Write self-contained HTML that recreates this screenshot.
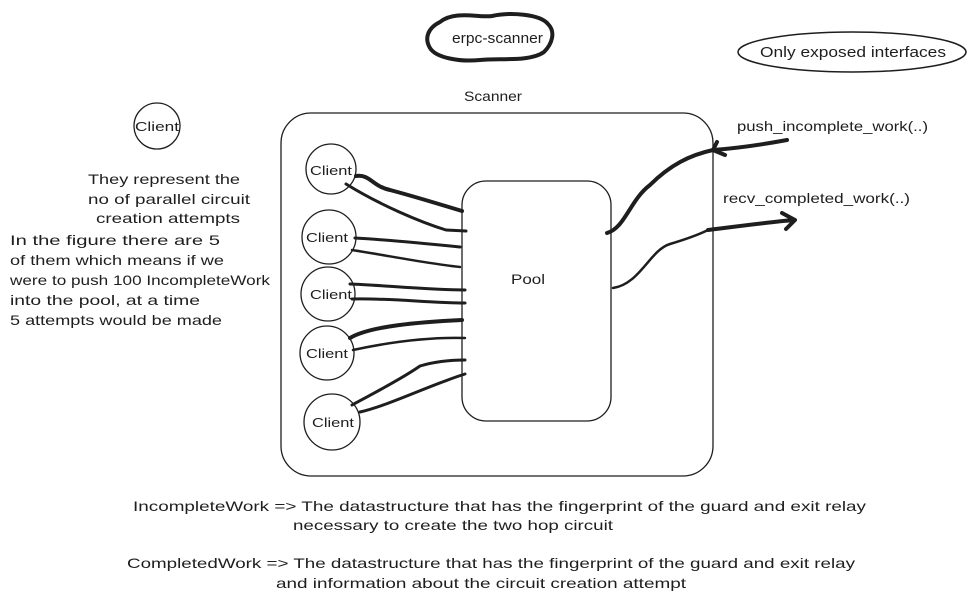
<!DOCTYPE html>
<html><head><style>
html,body{margin:0;padding:0;background:#fff;}
svg text{font-family:"Liberation Sans",sans-serif;fill:#1e1e1e;}
</style></head><body>
<svg width="976" height="604" viewBox="0 0 976 604" xmlns="http://www.w3.org/2000/svg">
<g fill="none" stroke="#1e1e1e" stroke-linecap="round" stroke-linejoin="round">
<path d="M440 22 C455 10,480 18,492 16 C510 12,540 14,548 24 C556 32,552 44,544 52 C530 62,500 58,480 60 C460 62,436 58,430 48 C424 38,428 28,440 22 Z" stroke-width="4"/>
<ellipse cx="852" cy="52" rx="114" ry="20" stroke-width="1.5"/>
<rect x="281" y="113" width="432" height="363" rx="30" stroke-width="1.3"/>
<rect x="462" y="181" width="149" height="240" rx="24" stroke-width="1.3"/>
<circle cx="157" cy="126" r="23" stroke-width="1.3"/>
<circle cx="331" cy="169" r="25" stroke-width="1.3"/>
<circle cx="329" cy="237" r="27" stroke-width="1.3"/>
<circle cx="328" cy="294" r="27" stroke-width="1.3"/>
<circle cx="327" cy="353" r="27" stroke-width="1.3"/>
<circle cx="332" cy="422" r="28" stroke-width="1.3"/>
<path d="M356 176 C370 174,372 186,390 190 C420 198,445 206,462 211" stroke-width="4"/>
<path d="M346 184 C380 205,420 222,446 230 L466 231" stroke-width="3"/>
<path d="M355 238 C390 240,430 244,460 247" stroke-width="3"/>
<path d="M352 250 C390 256,430 264,460 267" stroke-width="2.5"/>
<path d="M350 284 C380 285,430 290,465 290" stroke-width="3"/>
<path d="M352 299 C390 298,430 303,465 303" stroke-width="3"/>
<path d="M350 338 C370 326,420 322,462 320" stroke-width="4"/>
<path d="M353 350 C390 342,430 337,465 338" stroke-width="2.5"/>
<path d="M352 405 C370 395,400 380,420 366 C440 360,460 360,465 360" stroke-width="3"/>
<path d="M360 412 C390 405,430 385,465 374" stroke-width="3"/>
<path d="M607 233 C625 228,630 200,650 185 C670 165,690 155,713 150" stroke-width="4"/>
<path d="M713 150 C740 148,760 145,787 140" stroke-width="4"/>
<path d="M713 150 L725 155 M713 150 L717 142" stroke-width="4"/>
<path d="M613 288 C640 284,650 250,670 244 C690 238,700 234,708 230" stroke-width="2.5"/>
<path d="M708 230 C740 226,770 222,794 220" stroke-width="4"/>
<path d="M782 213 L795 220 L786 229" stroke-width="4"/>
</g>
<g font-size="14" lengthAdjust="spacingAndGlyphs">
<text x="452" y="43" font-size="15" textLength="91" lengthAdjust="spacingAndGlyphs">erpc-scanner</text>
<text x="760" y="57" font-size="15" textLength="186" lengthAdjust="spacingAndGlyphs">Only exposed interfaces</text>
<text x="464" y="101" textLength="58" lengthAdjust="spacingAndGlyphs">Scanner</text>
<text x="737" y="131" textLength="191" lengthAdjust="spacingAndGlyphs">push_incomplete_work(..)</text>
<text x="723" y="203" textLength="187" lengthAdjust="spacingAndGlyphs">recv_completed_work(..)</text>
<text x="511" y="284" textLength="34" lengthAdjust="spacingAndGlyphs">Pool</text>
<text x="135" y="131" font-size="13" textLength="44" lengthAdjust="spacingAndGlyphs">Client</text>
<text x="310" y="175" font-size="13" textLength="42" lengthAdjust="spacingAndGlyphs">Client</text>
<text x="306" y="242" font-size="13" textLength="42" lengthAdjust="spacingAndGlyphs">Client</text>
<text x="310" y="299" font-size="13" textLength="42" lengthAdjust="spacingAndGlyphs">Client</text>
<text x="306" y="358" font-size="13" textLength="42" lengthAdjust="spacingAndGlyphs">Client</text>
<text x="312" y="427" font-size="13" textLength="42" lengthAdjust="spacingAndGlyphs">Client</text>
<text x="88" y="184" textLength="152" lengthAdjust="spacingAndGlyphs">They represent the</text>
<text x="88" y="204" textLength="162" lengthAdjust="spacingAndGlyphs">no of parallel circuit</text>
<text x="96" y="223" textLength="144" lengthAdjust="spacingAndGlyphs">creation attempts</text>
<text x="10" y="245" textLength="210" lengthAdjust="spacingAndGlyphs">In the figure there are 5</text>
<text x="10" y="265" textLength="214" lengthAdjust="spacingAndGlyphs">of them which means  if we</text>
<text x="10" y="285" textLength="260" lengthAdjust="spacingAndGlyphs">were to push 100 IncompleteWork</text>
<text x="10" y="305" textLength="190" lengthAdjust="spacingAndGlyphs">into the pool, at a time</text>
<text x="10" y="325" textLength="212" lengthAdjust="spacingAndGlyphs">5 attempts would be made</text>
<text x="133" y="511" textLength="733" lengthAdjust="spacingAndGlyphs">IncompleteWork =&gt; The datastructure that has the fingerprint of the guard and exit relay</text>
<text x="293" y="530" textLength="320" lengthAdjust="spacingAndGlyphs">necessary to create the two hop circuit</text>
<text x="127" y="568" textLength="728" lengthAdjust="spacingAndGlyphs">CompletedWork =&gt; The datastructure that has the fingerprint of the guard and exit relay</text>
<text x="276" y="588" textLength="410" lengthAdjust="spacingAndGlyphs">and information about the circuit creation attempt</text>
</g>
</svg>
</body></html>
